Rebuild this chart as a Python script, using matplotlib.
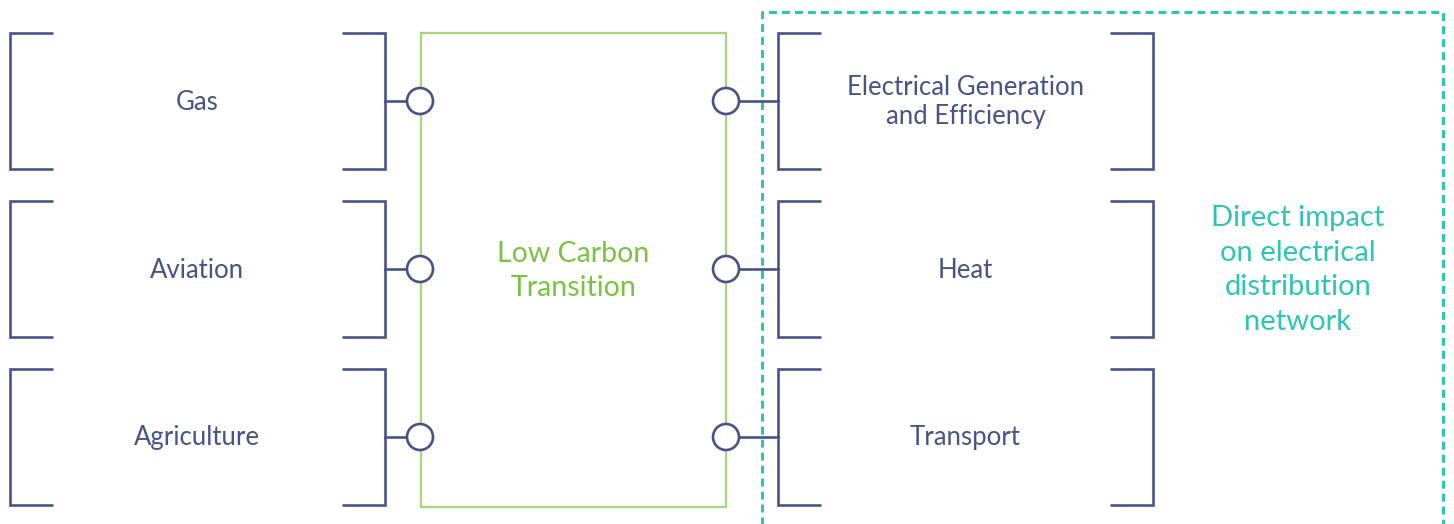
import matplotlib
matplotlib.use("Agg")
import matplotlib.pyplot as plt
from matplotlib.patches import Circle, Rectangle

left_labels = ["Gas", "Aviation", "Agriculture"]
right_labels = ["Electrical Generation\nand Efficiency", "Heat", "Transport"]
center_label = "Low Carbon\nTransition"
impact_label = "Direct impact\non electrical\ndistribution\nnetwork"

NAVY = "#4a5387"
GREEN = "#a6d67c"
GREEN_TXT = "#7cc242"
TEAL = "#2ec4b6"
FONT = "Lato"

W, H = 1454, 524
fig = plt.figure(figsize=(W / 100, H / 100), dpi=100)
ax = fig.add_axes([0, 0, 1, 1])
ax.set_xlim(0, W)
ax.set_ylim(H, 0)
ax.axis("off")

row_top = [33, 201, 369]
row_h = 136
blw = 1.9

def bracket(x0, x1, y0, y1, arm):
    ax.plot([x0 + arm, x0, x0, x0 + arm], [y0, y0, y1, y1], color=NAVY, lw=blw,
            solid_joinstyle="miter", solid_capstyle="butt")
    ax.plot([x1 - arm, x1, x1, x1 - arm], [y0, y0, y1, y1], color=NAVY, lw=blw,
            solid_joinstyle="miter", solid_capstyle="butt")

# green center box
ax.add_patch(Rectangle((421, 33), 305, 474, fill=False, edgecolor=GREEN, lw=1.6, zorder=2))
ax.text(573.5, 271, center_label, ha="center", va="center", color=GREEN_TXT,
        fontsize=20.5, family=FONT, linespacing=1.42)

# dashed teal box
ax.plot([762, 762, 1443, 1443], [530, 12, 12, 530], color=TEAL, lw=2.2,
        dashes=(2.6, 1.65), solid_joinstyle="miter")
ax.text(1298, 270, impact_label, ha="center", va="center", color=TEAL,
        fontsize=21, family=FONT, linespacing=1.4)

r = 13
for i, (lab_l, lab_r) in enumerate(zip(left_labels, right_labels)):
    y0 = row_top[i]
    y1 = y0 + row_h
    yc = (y0 + y1) / 2
    bracket(10, 385, y0, y1, 43)
    bracket(778, 1153, y0, y1, 43)
    ax.text(197, yc + 1, lab_l, ha="center", va="center", color=NAVY, fontsize=18.5, family=FONT)
    ax.text(965.5, yc + 1, lab_r, ha="center", va="center", color=NAVY, fontsize=18.5,
            family=FONT, linespacing=1.18)
    ax.plot([385, 420 - r], [yc, yc], color=NAVY, lw=1.9)
    ax.plot([726 + r, 778], [yc, yc], color=NAVY, lw=1.9)
    ax.add_patch(Circle((420, yc), r, facecolor="white", edgecolor=NAVY, lw=1.9, zorder=3))
    ax.add_patch(Circle((726, yc), r, facecolor="white", edgecolor=NAVY, lw=1.9, zorder=3))

fig.savefig("out.png", dpi=100, facecolor="white")
